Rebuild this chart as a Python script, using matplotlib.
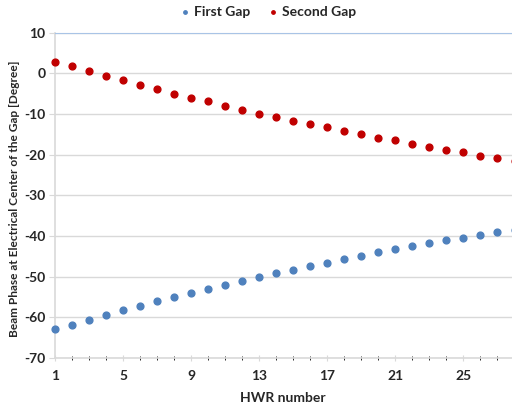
import matplotlib.pyplot as plt

hwr = list(range(1, 29))
first_gap = [-62.9, -61.8, -60.6, -59.4, -58.2, -57.2, -56.1, -55.1, -54.0, -53.0,
             -52.1, -51.0, -50.1, -49.2, -48.3, -47.4, -46.6, -45.7, -44.9, -44.0,
             -43.3, -42.5, -41.8, -41.0, -40.4, -39.7, -39.0, -38.4]
second_gap = [2.84, 1.7, 0.5, -0.6, -1.7, -2.8, -3.9, -5.0, -6.0, -6.9,
              -8.0, -9.0, -9.9, -10.7, -11.6, -12.5, -13.3, -14.2, -15.0, -15.8,
              -16.5, -17.3, -18.0, -18.8, -19.4, -20.2, -20.9, -21.5]
xticks = [1, 5, 9, 13, 17, 21, 25]
yticks = [-70, -60, -50, -40, -30, -20, -10, 0, 10]

plt.rcParams['font.family'] = ['Lato', 'DejaVu Sans']
plt.rcParams['font.weight'] = 'bold'
plt.rcParams['axes.labelweight'] = 'bold'
plt.rcParams['axes.unicode_minus'] = False

fig = plt.figure(figsize=(5.12, 4.07), dpi=100)
# axes runs a little past the right edge, like the cropped original
ax = fig.add_axes([55 / 512, 1 - 358 / 407, 459.5 / 512, 325.3 / 407])

ax.scatter(hwr, first_gap, s=24, color='#4f81bd', label='First Gap', zorder=3, clip_on=False)
ax.scatter(hwr, second_gap, s=24, color='#c00000', label='Second Gap', zorder=3, clip_on=False)

ax.set_xlim(1, 28)
ax.set_ylim(-70, 10)
ax.set_xticks(xticks)
ax.set_xticks(hwr, minor=True)
ax.set_yticks(yticks)

ax.grid(axis='y', color='#d9d9d9', linewidth=1)
ax.set_axisbelow(True)
for s in ['right', 'bottom', 'left']:
    ax.spines[s].set_color('#d9d9d9')
ax.spines['right'].set_visible(False)
ax.spines['top'].set_color('#a9c4e6')
ax.spines['left'].set_linewidth(1.2)
ax.spines['bottom'].set_linewidth(1.2)

ax.tick_params(axis='both', labelsize=10, colors='#d9d9d9', labelcolor='#262626')
ax.tick_params(axis='x', which='major', length=5, direction='inout', pad=6)
ax.tick_params(axis='x', which='minor', length=3, direction='inout')
ax.tick_params(axis='y', length=4, pad=3)

ax.set_xlabel('HWR number', fontsize=10, color='#262626')
ax.xaxis.set_label_coords((283 - 55) / 459.5, -0.105)
ax.set_ylabel('Beam Phase at Electrical Center of the Gap [Degree]', fontsize=8.6, color='#262626')
ax.yaxis.set_label_coords(-35 / 459.5, 0.49)

fig.legend(loc='upper center', bbox_to_anchor=(0.52, 1.0), ncol=2, frameon=False,
           fontsize=10, markerscale=0.5, handletextpad=0.05, handlelength=1.2,
           columnspacing=1.0, borderaxespad=0.0, labelcolor='#262626')

fig.savefig('out.png', dpi=100)
